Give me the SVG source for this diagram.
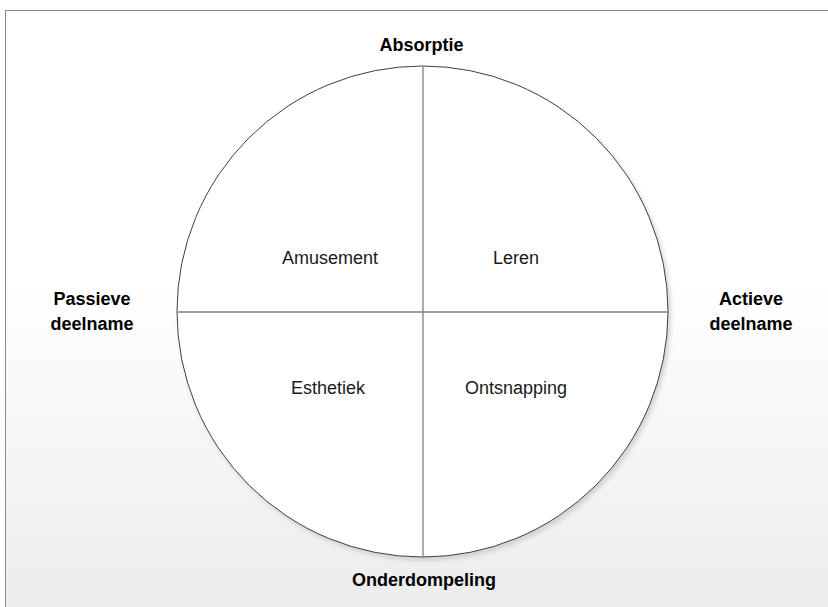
<svg xmlns="http://www.w3.org/2000/svg" width="828" height="607" viewBox="0 0 828 607">
  <style>
    .axis { font-family: "Liberation Sans", Arial, sans-serif; font-size: 18px; font-weight: bold; fill: #000; text-anchor: middle; }
    .quad { font-family: "Liberation Sans", Arial, sans-serif; font-size: 18px; fill: #1a1a1a; text-anchor: middle; }
    .divider { stroke: #808080; stroke-width: 1.3; fill: none; }
  </style>
  <defs>
    <linearGradient id="bg" x1="0" y1="0" x2="0" y2="1">
      <stop offset="0" stop-color="#ffffff"/>
      <stop offset="0.45" stop-color="#ffffff"/>
      <stop offset="1" stop-color="#ececec"/>
    </linearGradient>
    <filter id="shadow" x="-10%" y="-10%" width="125%" height="125%">
      <feGaussianBlur stdDeviation="2.5"/>
    </filter>
  </defs>

  <rect x="0" y="0" width="828" height="607" fill="#ffffff"/>
  <rect x="5.5" y="10.5" width="830" height="605" fill="url(#bg)" stroke="#8a8a8a" stroke-width="1"/>

  <g id="circle">
    <circle cx="425" cy="315" r="245.5" fill="#d0d0d0" filter="url(#shadow)"/>
    <circle cx="422.5" cy="311.5" r="245.5" fill="#ffffff" stroke="#404040" stroke-width="1"/>
  </g>

  <g id="connectors">
    <line class="divider" x1="423" y1="66" x2="423" y2="557"/>
    <line class="divider" x1="177" y1="312" x2="668" y2="312"/>
  </g>

  <g id="absorptie"><text class="axis" x="421.5" y="51">Absorptie</text></g>
  <g id="onderdompeling"><text class="axis" x="424" y="586">Onderdompeling</text></g>
  <g id="passieve"><text class="axis" x="92" y="305">Passieve</text><text class="axis" x="92" y="330">deelname</text></g>
  <g id="actieve"><text class="axis" x="751" y="305">Actieve</text><text class="axis" x="751" y="330">deelname</text></g>

  <g id="amusement"><text class="quad" x="330" y="264">Amusement</text></g>
  <g id="leren"><text class="quad" x="516" y="264">Leren</text></g>
  <g id="esthetiek"><text class="quad" x="328" y="394">Esthetiek</text></g>
  <g id="ontsnapping"><text class="quad" x="516" y="394">Ontsnapping</text></g>
</svg>
